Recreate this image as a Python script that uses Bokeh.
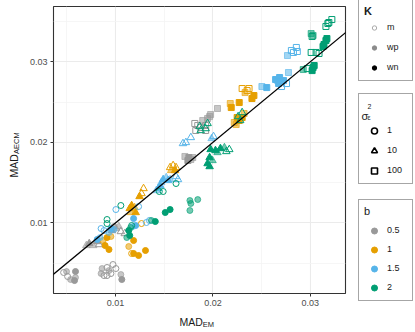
import math
from bokeh.plotting import figure
from bokeh.models import (ColumnDataSource, Range1d, FixedTicker, Slope, Label,
                          Legend, LegendItem)
from bokeh.layouts import row, column
from bokeh.embed import file_html
from bokeh.resources import INLINE
from bokeh.core.properties import value

# ---------------- data ----------------
b_levels = ["0.5", "1", "1.5", "2"]
b_colors = ["#999999", "#E69F00", "#56B4E9", "#009E73"]
k_levels = ["m", "wp", "wn"]
sigma_levels = ["1", "10", "100"]
tick_values = [0.01, 0.02, 0.03]
tick_labels = ["0.01", "0.02", "0.03"]
minor_values = [0.005, 0.015, 0.025, 0.035]

# b = 0.5
em_b05 = [0.00496, 0.00588, 0.00507, 0.00537, 0.00578, 0.00588, 0.00466,
          0.00861, 0.00912, 0.00973, 0.00932, 0.00881, 0.00912, 0.00952, 0.01003, 0.01054, 0.01064, 0.00851,
          0.00729, 0.00770, 0.00811, 0.00699, 0.00831,
          0.01003, 0.01054, 0.01094, 0.01033, 0.00963, 0.00983,
          0.01712, 0.01753, 0.01793, 0.01743, 0.01773,
          0.01814, 0.01844, 0.01824, 0.01874, 0.01925, 0.01925, 0.01945, 0.01976, 0.02047, 0.01966, 0.01895]
aecm_b05 = [0.00395, 0.00395, 0.00333, 0.00296, 0.00283, 0.00320, 0.00383,
            0.00432, 0.00445, 0.00482, 0.00407, 0.00345, 0.00345, 0.00370, 0.00432, 0.00358, 0.00296, 0.00370,
            0.00743, 0.00718, 0.00768, 0.00718, 0.00730,
            0.00929, 0.00892, 0.00867, 0.00954, 0.00904, 0.00954,
            0.01824, 0.01811, 0.01811, 0.01774, 0.01786,
            0.02234, 0.02209, 0.02147, 0.02184, 0.02147, 0.02209, 0.02296, 0.02345, 0.02420, 0.02320, 0.02271]
k_b05 = ["wp", "wn", "m", "wp", "wn", "wp", "m",
         "wp", "m", "m", "wp", "m", "m", "m", "m", "wp", "wn", "wp",
         "wn", "wp", "wn", "wp", "m",
         "wp", "m", "m", "wp", "wn", "wp",
         "wp", "wn", "wp", "wn", "wp",
         "m", "m", "m", "m", "m", "m", "wp", "wp", "wp", "wp", "wp"]
s_b05 = ["1"] * 18 + ["10"] * 10 + ["1"] + ["100"] * 16

# b = 1
em_b1 = [0.00912, 0.00952, 0.00892, 0.00932, 0.01185, 0.01135, 0.01185, 0.01236, 0.01307, 0.01165, 0.01266, 0.00871,
         0.01287, 0.01266, 0.01165, 0.01145, 0.01196, 0.01206, 0.01155, 0.01246,
         0.01560, 0.01591, 0.01621, 0.01570, 0.01611,
         0.02178, 0.02270, 0.02300, 0.02351, 0.02371, 0.02421, 0.02401, 0.02330, 0.02188,
         0.02219, 0.02270, 0.02300, 0.02320, 0.02249, 0.02239]
aecm_b1 = [0.00817, 0.00830, 0.00718, 0.00668, 0.00780, 0.00706, 0.00619, 0.00594, 0.00656, 0.00619, 0.00991, 0.00780,
           0.01426, 0.01364, 0.01215, 0.01178, 0.01190, 0.01128, 0.01128, 0.01327,
           0.01687, 0.01712, 0.01687, 0.01650, 0.01650,
           0.02482, 0.02494, 0.02668, 0.02643, 0.02668, 0.02581, 0.02544, 0.02618, 0.02432,
           0.02246, 0.02271, 0.02308, 0.02358, 0.02308, 0.02221]
k_b1 = ["wn", "wp", "wn", "wn", "wn", "wp", "wn", "wn", "wn", "m", "m", "wp",
        "m", "m", "wn", "wn", "wp", "wn", "wp", "wn",
        "m", "m", "m", "wp", "wn",
        "wp", "wn", "m", "m", "m", "wn", "wn", "wp", "wn",
        "wp", "wn", "wn", "wp", "wn", "wp"]
s_b1 = ["1"] * 12 + ["10"] * 13 + ["100"] * 15

# b = 1.5
em_b15 = [0.00851, 0.00881, 0.00932, 0.00952, 0.00983, 0.00811, 0.00841, 0.01175, 0.01206, 0.01185, 0.01317, 0.01348,
          0.01003, 0.01236,
          0.01489, 0.01520, 0.01540, 0.01459, 0.01469, 0.01439, 0.01418, 0.01621, 0.01641, 0.01560,
          0.01692, 0.01722, 0.01773, 0.02006, 0.01986,
          0.02503, 0.02553, 0.02644, 0.02685, 0.02725, 0.02776, 0.02705, 0.02756, 0.02675, 0.02665,
          0.02766, 0.02806, 0.02857, 0.02867, 0.02827]
aecm_b15 = [0.00929, 0.00904, 0.00880, 0.00929, 0.00917, 0.00793, 0.00817, 0.00954, 0.00966, 0.01053, 0.01004, 0.01029,
            0.01165, 0.01202,
            0.01538, 0.01563, 0.01526, 0.01463, 0.01501, 0.01426, 0.01401, 0.01575, 0.01538, 0.01538,
            0.01985, 0.01998, 0.02060, 0.02072, 0.02047,
            0.02693, 0.02680, 0.02780, 0.02805, 0.02767, 0.02867, 0.02693, 0.02730, 0.02730, 0.02767,
            0.03078, 0.03140, 0.03178, 0.03128, 0.03116]
k_b15 = ["m", "m", "wp", "wn", "wp", "wn", "wp", "wp", "wn", "wn", "m", "m",
         "m", "m",
         "wn", "wp", "wn", "wn", "wp", "wn", "wp", "m", "m", "wp",
         "m", "m", "m", "m", "wp",
         "wp", "wn", "wn", "wn", "wn", "wp", "m", "m", "wn", "wp",
         "wp", "m", "m", "m", "m"]
s_b15 = ["1"] * 14 + ["10"] * 15 + ["100"] * 15

# b = 2
em_b2 = [0.01054, 0.00912, 0.00912, 0.01135, 0.01155, 0.01165, 0.01145, 0.01115, 0.01368, 0.01408,
         0.01449, 0.01489, 0.01621, 0.01763, 0.01773, 0.01844, 0.01763, 0.01510, 0.01560,
         0.01864, 0.01945, 0.01874, 0.01925, 0.02300, 0.02280, 0.02259,
         0.01976, 0.02026, 0.02077, 0.02118, 0.02138, 0.02168, 0.01966, 0.01966, 0.01945, 0.01996, 0.02047,
         0.02928, 0.02969, 0.03029, 0.03040, 0.03019,
         0.03009, 0.03060, 0.03090, 0.03141, 0.03161, 0.03171, 0.03131,
         0.03009, 0.03029, 0.03019, 0.03161, 0.03181, 0.03222, 0.03191]
aecm_b2 = [0.01215, 0.01041, 0.00991, 0.00904, 0.00942, 0.00966, 0.00842, 0.00817, 0.01029, 0.01016,
           0.01389, 0.01389, 0.01488, 0.01277, 0.01240, 0.01289, 0.01153, 0.01128, 0.01165,
           0.02196, 0.02234, 0.02147, 0.02171, 0.02370, 0.02271, 0.02320,
           0.01911, 0.01898, 0.01923, 0.01935, 0.01886, 0.01911, 0.01811, 0.01699, 0.01736, 0.01774, 0.01873,
           0.02904, 0.02916, 0.02929, 0.02954, 0.02891,
           0.03116, 0.03116, 0.03103, 0.03215, 0.03264, 0.03289, 0.03190,
           0.03351, 0.03327, 0.03314, 0.03439, 0.03476, 0.03525, 0.03488]
k_b2 = ["m", "m", "m", "wn", "wp", "m", "wn", "wp", "wp", "wn",
        "m", "m", "m", "wp", "wp", "wp", "wp", "wn", "wn",
        "m", "m", "m", "m", "m", "m", "m",
        "wn", "wn", "wn", "wp", "m", "m", "wn", "wn", "wn", "wp", "wp",
        "wp", "m", "wn", "wn", "wn",
        "m", "m", "m", "wn", "wn", "wn", "wn",
        "wp", "wp", "m", "m", "m", "m", "m"]
s_b2 = ["1"] * 19 + ["10"] * 18 + ["100"] * 19

# ---------------- build source ----------------
marker_of = {"1": "circle", "10": "triangle", "100": "square"}
size_of = {"1": 6.0, "10": 7.5, "100": 6.0}
fill_alpha_of = {"m": 0.0, "wp": 0.55, "wn": 1.0}
line_alpha_of = {"m": 1.0, "wp": 0.6, "wn": 1.0}

groups = [(em_b05, aecm_b05, k_b05, s_b05), (em_b1, aecm_b1, k_b1, s_b1),
          (em_b15, aecm_b15, k_b15, s_b15), (em_b2, aecm_b2, k_b2, s_b2)]
cols = dict(x=[], y=[], marker=[], size=[], color=[], fa=[], la=[])
for (em, ae, kk, ss), col in zip(groups, b_colors):
    for xv, yv, kv, sv in zip(em, ae, kk, ss):
        cols["x"].append(xv)
        cols["y"].append(yv)
        cols["marker"].append(marker_of[sv])
        cols["size"].append(size_of[sv])
        cols["color"].append(col)
        cols["fa"].append(fill_alpha_of[kv])
        cols["la"].append(line_alpha_of[kv])
src = ColumnDataSource(cols)

FONT = "Liberation Sans"
TXT = "#1A1A1A"
NAN = float("nan")


def blank_fig(w, h, xr, yr):
    f = figure(width=w, height=h, output_backend="svg", toolbar_location=None,
               x_range=Range1d(*xr), y_range=Range1d(*yr),
               x_axis_location=None, y_axis_location=None,
               min_border=0, min_border_left=0, min_border_right=0,
               min_border_top=0, min_border_bottom=0)
    f.outline_line_color = None
    f.xgrid.visible = False
    f.ygrid.visible = False
    f.background_fill_color = "white"
    f.border_fill_color = "white"
    return f


# ---------------- main figure ----------------
p = figure(width=321, height=310, output_backend="svg", toolbar_location=None,
           x_range=Range1d(0.00362, 0.03362), y_range=Range1d(0.00122, 0.03687),
           min_border_left=23, min_border_right=2, min_border_top=6, min_border_bottom=17)
p.background_fill_color = "white"
p.border_fill_color = "white"
p.outline_line_color = "#333333"
p.outline_line_width = 1.1

ticker = FixedTicker(ticks=tick_values, minor_ticks=minor_values)
for ax in (p.xaxis[0], p.yaxis[0]):
    ax.ticker = ticker
    ax.major_label_overrides = {v: t for v, t in zip(tick_values, tick_labels)}
    ax.axis_line_color = None
    ax.major_tick_in = 0
    ax.major_tick_out = 3
    ax.major_tick_line_color = "#333333"
    ax.minor_tick_line_color = None
    ax.major_label_text_font = FONT
    ax.major_label_text_font_size = "9px"
    ax.major_label_text_color = "#4D4D4D"
    ax.major_label_standoff = 2
for g in (p.xgrid[0], p.ygrid[0]):
    g.ticker = ticker
    g.grid_line_color = "#EBEBEB"
    g.grid_line_width = 1.1
    g.minor_grid_line_color = "#F4F4F4"
    g.minor_grid_line_width = 0.8

p.scatter(x="x", y="y", marker="marker", size="size", fill_color="color", line_color="color",
          fill_alpha="fa", line_alpha="la", line_width=1, source=src)
p.add_layout(Slope(gradient=1, y_intercept=0, line_color="black", line_width=1.3))

# ---------------- y axis title ----------------
ytit = blank_fig(26, 310, (0, 26), (0, 287))
ytit.text(x=[13.5], y=[116], text=["MAD"], angle=math.pi / 2, text_font=value(FONT),
          text_font_size="10.5px", text_color=TXT, text_baseline="alphabetic", text_align="left")
ytit.text(x=[16], y=[139.5], text=["AECM"], angle=math.pi / 2, text_font=value(FONT),
          text_font_size="7.5px", text_color=TXT, text_baseline="alphabetic", text_align="left")

# ---------------- x axis title ----------------
xtit = blank_fig(347, 22, (0, 347), (0, 22))
xtit.text(x=[179], y=[11], text=["MAD"], text_font=value(FONT), text_font_size="10.5px",
          text_color=TXT, text_baseline="alphabetic", text_align="left")
xtit.text(x=[202.3], y=[8.5], text=["EM"], text_font=value(FONT), text_font_size="7.5px",
          text_color=TXT, text_baseline="alphabetic", text_align="left")

# ---------------- legend figure ----------------
leg = blank_fig(68, 332, (0, 68), (0, 332))

k_keys = {"m": dict(fill_alpha=0, line_color="#AAAAAA", fill_color="#AAAAAA"),
          "wp": dict(fill_alpha=1, line_color="#8C8C8C", fill_color="#8C8C8C"),
          "wn": dict(fill_alpha=1, line_color="black", fill_color="black")}
k_items = []
for k in k_levels:
    r = leg.scatter(x=[NAN], y=[NAN], marker="circle", line_width=1, **k_keys[k])
    k_items.append(LegendItem(label=k, renderers=[r]))
s_items = []
for s in sigma_levels:
    r = leg.scatter(x=[NAN], y=[NAN], marker=marker_of[s], line_color="black",
                    fill_color="black", fill_alpha=0, line_width=1.6)
    s_items.append(LegendItem(label=s, renderers=[r]))
b_items = []
for bl, col in zip(b_levels, b_colors):
    r = leg.scatter(x=[NAN], y=[NAN], marker="circle", line_color=col, fill_color=col, line_width=1)
    b_items.append(LegendItem(label=bl, renderers=[r]))


def make_legend(items, title, loc, bold, glyph_h, label_h, spacing, standoff, bg_alpha=1.0):
    lg = Legend(items=items, title=title, location=loc, orientation="vertical")
    lg.title_text_font = FONT
    lg.title_text_font_size = "11px"
    lg.title_text_font_style = "bold" if bold else "normal"
    lg.title_text_color = TXT
    lg.title_standoff = standoff
    lg.label_text_font = FONT
    lg.label_text_font_size = "9px"
    lg.label_text_color = TXT
    lg.label_standoff = 3
    lg.label_height = label_h
    lg.glyph_height = glyph_h
    lg.glyph_width = 20
    lg.spacing = spacing
    lg.padding = 5
    lg.margin = 0
    lg.border_line_color = "#4D4D4D"
    lg.border_line_width = 1.2
    lg.background_fill_color = "white"
    lg.background_fill_alpha = bg_alpha
    return lg


leg.add_layout(make_legend(k_items, "K", (11, 251), True, 11, 16, 4, 2))
leg.add_layout(make_legend(s_items, " ", (11, 148), False, 15, 16, 4, 11, bg_alpha=0.0))
leg.add_layout(make_legend(b_items, "b", (11, 31), False, 15, 16, 3, 5))
# sigma^2_epsilon legend title, drawn piecewise
leg.add_layout(Label(x=14, y=217, text="σ", text_font=FONT, text_font_size="11px", level="overlay",
                     text_color=TXT, text_baseline="alphabetic", text_align="left"))
leg.add_layout(Label(x=20, y=226.5, text="2", text_font=FONT, text_font_size="7px", level="overlay",
                     text_color=TXT, text_baseline="alphabetic", text_align="left"))
leg.add_layout(Label(x=20, y=215.5, text="ε", text_font=FONT, text_font_size="7px", level="overlay",
                     text_color=TXT, text_baseline="alphabetic", text_align="left"))

layout = row(column(row(ytit, p), xtit), leg)
open("out.html", "w").write(file_html(layout, INLINE))
